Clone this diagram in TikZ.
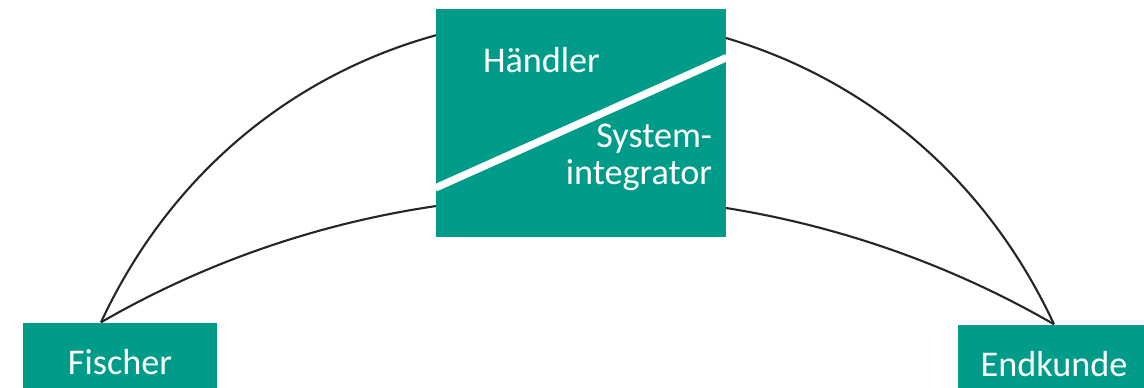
\documentclass[tikz,border=0pt]{standalone}
\usepackage{fontspec}
\setmainfont{Carlito}
\usetikzlibrary{positioning}
\definecolor{fishteal}{RGB}{0,156,137}

\begin{document}
\begin{tikzpicture}[
    every node/.style={font=\fontsize{10.3}{10.5}\selectfont, text=white},
    party/.style={fill=fishteal, inner sep=0pt, minimum height=0.78cm},
    label/.style={inner sep=0pt},
    chain/.style={draw=black!85, line width=0.6pt}]
    \useasboundingbox (0,0) rectangle (11.44,3.87);

    \node[party, minimum width=1.94cm] (fischer) at (1.20,0.25) {Fischer};
    \node[party, minimum width=1.92cm] (endkunde) at (10.54,0.23) {Endkunde};

    \draw[chain] ([xshift=-0.19cm]fischer.north) to[out=65, in=115, looseness=1.21] (endkunde.north);
    \draw[chain] ([xshift=-0.19cm]fischer.north) to[out=30, in=150, looseness=0.91] (endkunde.north);

    \node[party, minimum width=2.90cm, minimum height=2.28cm] (mitte) at (5.81,2.64) {};
    \draw[white, line width=2.1pt] ([yshift=-0.65cm]mitte.west) -- ([yshift=0.655cm]mitte.east);

    \node[label, anchor=base west] (haendler) at ([xshift=0.47cm, yshift=-0.64cm]mitte.north west) {Händler};
    \node[label, anchor=base east, align=right] (integrator) at ([xshift=-0.14cm, yshift=-1.76cm]mitte.north east) {System-\\integrator};
    %\draw[red] (mitte.north west) grid[step=0.5] (mitte.south east);
\end{tikzpicture}
\end{document}
